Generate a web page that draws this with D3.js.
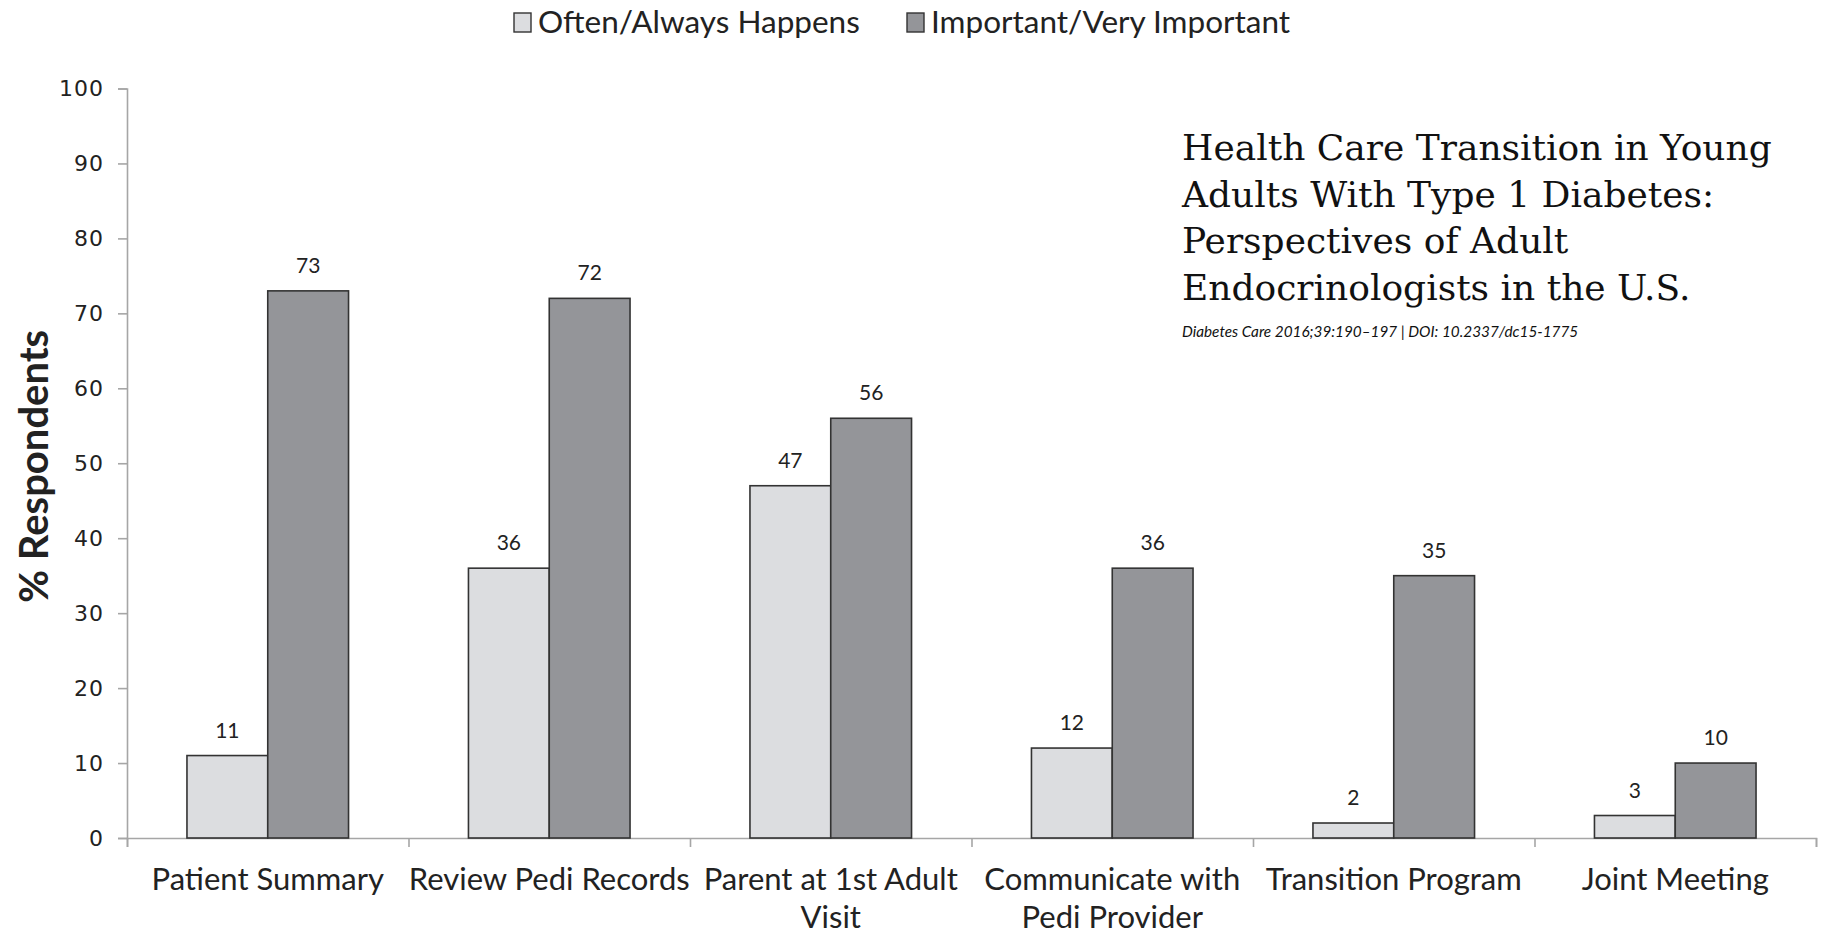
<!DOCTYPE html>
<html>
<head>
<meta charset="utf-8">
<script src="https://d3js.org/d3.v7.min.js"></script>
<style>
  html, body { margin: 0; padding: 0; background: #fff; }
  svg { display: block; }
</style>
</head>
<body>
<svg id="chart" width="1825" height="936"></svg>
<script>
// Survey measures and results (% respondents)
const categories = [
  ["Patient Summary"],
  ["Review Pedi Records"],
  ["Parent at 1st Adult", "Visit"],
  ["Communicate with", "Pedi Provider"],
  ["Transition Program"],
  ["Joint Meeting"]
];
const seriesNames = ["Often/Always Happens", "Important/Very Important"];
const oftenValues = [11, 36, 47, 12, 2, 3];
const importantValues = [73, 72, 56, 36, 35, 10];
const yTicks = [0, 10, 20, 30, 40, 50, 60, 70, 80, 90, 100];
const titleLines = [
  "Health Care Transition in Young",
  "Adults With Type 1 Diabetes:",
  "Perspectives of Adult",
  "Endocrinologists in the U.S."
];
const citation = "Diabetes Care 2016;39:190\u2013197 | DOI: 10.2337/dc15-1775";

const seriesColors = ["#dcdde0", "#949599"];
const sansFont = "Lato, 'Open Sans', sans-serif";

const svg = d3.select("#chart");
const plot = { left: 127, right: 1816, top: 88.5, bottom: 838 };

const catKeys = categories.map(c => c.join(" "));
const x0 = d3.scaleBand().domain(catKeys).range([plot.left, plot.right]).padding(0);
const x1 = d3.scaleBand().domain(seriesNames)
  .range([x0.bandwidth() * 0.213, x0.bandwidth() * 0.787]).padding(0);
const y = d3.scaleLinear().domain([0, 100]).range([plot.bottom, plot.top]);

const rows = catKeys.map((k, i) => ({
  key: k,
  values: [
    { series: seriesNames[0], value: oftenValues[i], color: seriesColors[0] },
    { series: seriesNames[1], value: importantValues[i], color: seriesColors[1] }
  ]
}));

// Y axis
const yAxis = svg.append("g")
  .attr("transform", `translate(${plot.left},0)`)
  .call(d3.axisLeft(y).tickValues(yTicks).tickSize(9).tickPadding(14));
yAxis.select(".domain").attr("stroke", "#a6a6a6").attr("stroke-width", 1.6);
yAxis.selectAll(".tick line").attr("stroke", "#a6a6a6").attr("stroke-width", 1.6);
yAxis.selectAll(".tick text")
  .attr("font-family", "'DejaVu Sans', Verdana, sans-serif")
  .attr("font-size", 22)
  .attr("letter-spacing", 1)
  .attr("fill", "#222");

// X axis (category boundaries as ticks)
const boundaries = catKeys.map(k => x0(k)).concat([plot.right]);
const xLin = d3.scaleLinear().domain([plot.left, plot.right]).range([plot.left, plot.right]);
const xAxis = svg.append("g")
  .attr("transform", `translate(0,${plot.bottom})`)
  .call(d3.axisBottom(xLin).tickValues(boundaries).tickSize(9).tickFormat(""));
xAxis.select(".domain").attr("stroke", "#a6a6a6").attr("stroke-width", 1.6);
xAxis.selectAll(".tick line").attr("stroke", "#a6a6a6").attr("stroke-width", 1.6);

// Category labels
const catLabels = svg.append("g");
categories.forEach((lines, i) => {
  const cx = x0(catKeys[i]) + x0.bandwidth() / 2;
  const t = catLabels.append("text")
    .attr("x", cx).attr("y", 890)
    .attr("text-anchor", "middle")
    .attr("font-family", sansFont)
    .attr("font-size", 31)
    .attr("fill", "#222");
  lines.forEach((ln, j) => {
    t.append("tspan").attr("x", cx).attr("dy", j === 0 ? 0 : 38).text(ln);
  });
});

// Bars
const groups = svg.append("g").selectAll("g")
  .data(rows).join("g")
  .attr("transform", d => `translate(${x0(d.key)},0)`);

groups.selectAll("rect")
  .data(d => d.values).join("rect")
  .attr("x", d => x1(d.series))
  .attr("width", x1.bandwidth())
  .attr("y", d => y(d.value))
  .attr("height", d => y(0) - y(d.value))
  .attr("fill", d => d.color)
  .attr("stroke", "#333")
  .attr("stroke-width", 1.6);

groups.selectAll("text.val")
  .data(d => d.values).join("text")
  .attr("class", "val")
  .attr("x", d => x1(d.series) + x1.bandwidth() / 2)
  .attr("y", d => y(d.value) - 18)
  .attr("text-anchor", "middle")
  .attr("font-family", sansFont)
  .attr("font-size", 21)
  .attr("fill", "#222")
  .text(d => d.value);

// Y axis title
svg.append("text")
  .attr("transform", `translate(48,${(plot.top + plot.bottom) / 2 + 3}) rotate(-90)`)
  .attr("text-anchor", "middle")
  .attr("font-family", sansFont)
  .attr("font-weight", "bold")
  .attr("font-size", 40)
  .attr("fill", "#222")
  .text("% Respondents");

// Legend
const legendX = [514, 907];
const legend = svg.append("g");
seriesNames.forEach((name, i) => {
  legend.append("rect")
    .attr("x", legendX[i]).attr("y", 13)
    .attr("width", 17).attr("height", 19)
    .attr("fill", seriesColors[i])
    .attr("stroke", "#333").attr("stroke-width", 1.4);
  legend.append("text")
    .attr("x", legendX[i] + 24).attr("y", 33)
    .attr("font-family", sansFont)
    .attr("font-size", 31.5)
    .attr("fill", "#222")
    .text(name);
});

// Article title block
const titleG = svg.append("g");
titleLines.forEach((ln, i) => {
  titleG.append("text")
    .attr("x", 1182).attr("y", 160 + i * 46.5)
    .attr("font-family", "'DejaVu Serif', 'Liberation Serif', serif")
    .attr("font-size", 36)
    .attr("fill", "#111")
    .text(ln);
});
titleG.append("text")
  .attr("x", 1182).attr("y", 337)
  .attr("font-family", sansFont)
  .attr("font-style", "italic")
  .attr("font-size", 15.3)
  .attr("fill", "#111")
  .text(citation);
</script>
</body>
</html>
